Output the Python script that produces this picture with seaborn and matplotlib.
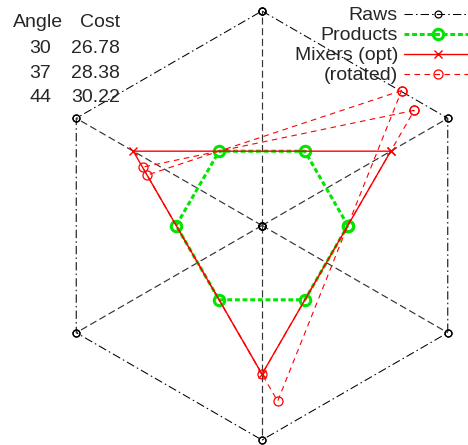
import numpy as np
import pandas as pd
import matplotlib
matplotlib.use("Agg")
import matplotlib.pyplot as plt
from matplotlib.lines import Line2D
import seaborn as sns

# ---- data -------------------------------------------------------------
raw_angles = [90, 30, -30, -90, -150, 150]      # raw material directions (deg)
raw_radius = 1.0
product_angles = [0, 60, 120, 180, 240, 300]     # product directions (deg)
product_radius = 0.4
mixer_angles = [30, 150, 270]                    # optimal mixer directions (deg)
mixer_radius = 0.693

# mixers after rotating the first mixer to 37 and 44 degrees
rot37_x = [0.710, -0.557, 0.000]
rot37_y = [0.537, 0.272, -0.693]
rot44_x = [0.651, -0.536, 0.073]
rot44_y = [0.629, 0.235, -0.819]

table_angles = [30, 37, 44]
table_costs = [26.78, 28.38, 30.22]

legend_labels = ["Raws", "Products", "Mixers (opt)", "(rotated)"]

# ---- helpers ----------------------------------------------------------
def polar(angles, radius):
    a = np.deg2rad(np.asarray(angles, dtype=float))
    return radius * np.cos(a), radius * np.sin(a)

def closed(xs, ys, unit):
    xs = list(xs) + [xs[0]]
    ys = list(ys) + [ys[0]]
    return pd.DataFrame({"x": xs, "y": ys, "unit": unit})

# ---- figure -----------------------------------------------------------
sns.set_theme(style="white")
plt.rcParams["font.family"] = ["Liberation Sans", "DejaVu Sans"]

W, H = 468, 445
fig = plt.figure(figsize=(W / 100, H / 100), dpi=100)
ax = fig.add_axes([0, 0, 1, 1])
cx, cy, s = 262.0, 225.5, 214.5
ax.set_xlim(-cx / s, (W - cx) / s)
ax.set_ylim(-(H - cy) / s, cy / s)
ax.set_axis_off()

RED = "#ff0000"
GREEN = "#00e600"

# raws: hexagon outline plus spokes from the centre
rx, ry = polar(raw_angles, raw_radius)
hexagon = closed(rx, ry, 0)
sns.lineplot(data=hexagon, x="x", y="y", sort=False, estimator=None, ax=ax,
             color="black", lw=0.75, linestyle=(0, (8, 3, 1.5, 3)),
             marker="o", markersize=5, markerfacecolor="none",
             markeredgecolor="black", markeredgewidth=0.9)
spokes = pd.concat([pd.DataFrame({"x": [0.0, x], "y": [0.0, y], "unit": i})
                    for i, (x, y) in enumerate(zip(rx, ry))])
sns.lineplot(data=spokes, x="x", y="y", units="unit", sort=False,
             estimator=None, ax=ax, color="#333333", lw=0.85,
             linestyle=(0, (6, 3)), marker="o", markersize=5,
             markerfacecolor="none", markeredgecolor="black",
             markeredgewidth=0.9)

# products
px, py = polar(product_angles, product_radius)
sns.lineplot(data=closed(px, py, 0), x="x", y="y", sort=False,
             estimator=None, ax=ax, color=GREEN, lw=2.2,
             linestyle=(0, (1.6, 0.9)), marker="o", markersize=7.5,
             markerfacecolor="none", markeredgecolor=GREEN,
             markeredgewidth=2.2)

# optimal mixers
mx, my = polar(mixer_angles, mixer_radius)
sns.lineplot(data=closed(mx, my, 0), x="x", y="y", sort=False,
             estimator=None, ax=ax, color=RED, lw=1.0, marker="x",
             markersize=6, markeredgecolor=RED, markeredgewidth=1.0)

# rotated mixers
rotated = pd.concat([closed(rot37_x, rot37_y, 37), closed(rot44_x, rot44_y, 44)])
sns.lineplot(data=rotated, x="x", y="y", units="unit", sort=False,
             estimator=None, ax=ax, color=RED, lw=0.8,
             linestyle=(0, (5, 4)), marker="o", markersize=6.5,
             markerfacecolor="none", markeredgecolor=RED,
             markeredgewidth=0.9)

# ---- cost table -------------------------------------------------------
FS = 14
def fx(px_):
    return px_ / W

def fy(py_):
    return 1 - py_ / H

fig.text(fx(38), fy(26.7), "Angle", ha="center", va="baseline", fontsize=FS)
fig.text(fx(120), fy(26.7), "Cost", ha="right", va="baseline", fontsize=FS)
for i, (a, c) in enumerate(zip(table_angles, table_costs)):
    base = [53.3, 78.3, 101.7][i]
    fig.text(fx(40), fy(base), f"{a}", ha="center", va="baseline", fontsize=FS)
    fig.text(fx(120), fy(base), f"{c:.2f}", ha="right", va="baseline",
             fontsize=FS)

# ---- key (labels right-aligned, samples to their right) ---------------
samples = [
    dict(color="black", lw=0.75, linestyle=(0, (8, 3, 1.5, 3)), marker="o",
         markersize=5, markerfacecolor="none", markeredgecolor="black",
         markeredgewidth=0.9),
    dict(color=GREEN, lw=2.2, linestyle=(0, (1.6, 0.9)), marker="o",
         markersize=7.5, markerfacecolor="none", markeredgecolor=GREEN,
         markeredgewidth=2.2),
    dict(color=RED, lw=1.0, linestyle="-", marker="x", markersize=6,
         markeredgecolor=RED, markeredgewidth=1.0),
    dict(color=RED, lw=0.8, linestyle=(0, (5, 4)), marker="o",
         markersize=6.5, markerfacecolor="none", markeredgecolor=RED,
         markeredgewidth=0.9),
]
baselines = [20, 39.5, 60, 80]
for lab, st, base in zip(legend_labels, samples, baselines):
    fig.text(fx(398), fy(base), lab, ha="right", va="baseline", fontsize=FS)
    yy = fy(base - 6)
    fig.add_artist(Line2D([fx(404), fx(472)], [yy, yy], transform=fig.transFigure,
                          markevery=[], **st))
    fig.add_artist(Line2D([fx(438)], [yy], transform=fig.transFigure,
                          **{k: v for k, v in st.items() if k not in ("lw", "linestyle")},
                          linestyle="none"))

fig.savefig("out.png", dpi=100)
